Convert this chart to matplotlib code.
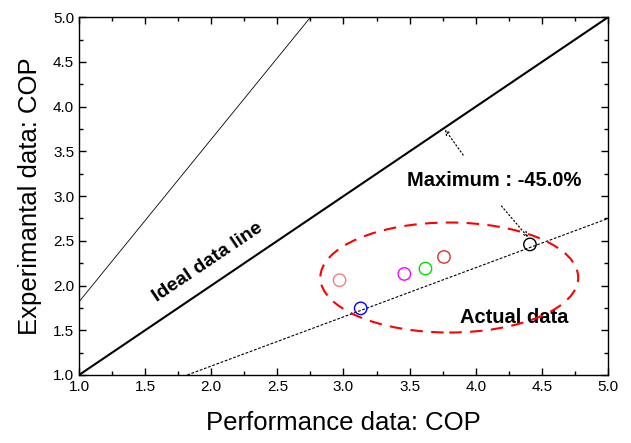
import matplotlib
matplotlib.use("Agg")
import matplotlib.pyplot as plt
import numpy as np
from matplotlib.patches import Ellipse
from matplotlib.ticker import MultipleLocator

plt.rcParams['font.family'] = ['Liberation Sans', 'DejaVu Sans']

# Data
perf_cop = [2.97, 3.13, 3.46, 3.62, 3.76, 4.41]
exp_cop = [2.06, 1.745, 2.13, 2.19, 2.32, 2.46]
point_colors = ['#f08080', '#0000ff', '#ff00ff', '#00e000', '#e03030', '#000000']
ideal_x = [1.0, 5.0]
ideal_y = [1.0, 5.0]
ratio_upper = 1 / 0.55
ratio_lower = 0.55
x_ticks = [1.0, 1.5, 2.0, 2.5, 3.0, 3.5, 4.0, 4.5, 5.0]
y_ticks = [1.0, 1.5, 2.0, 2.5, 3.0, 3.5, 4.0, 4.5, 5.0]

fig = plt.figure(figsize=(6.31, 4.43), dpi=100)
ax = fig.add_axes([0.1252, 0.1535, 0.8383, 0.8075])

xs = np.array([1.0, 5.0])
ax.plot(ideal_x, ideal_y, color='black', lw=1.5)
ax.plot(xs, xs * ratio_upper, color='black', lw=0.6)
ax.plot(xs, xs * ratio_lower, color='black', lw=0.8, ls=(0, (2.5, 1.5)))

for x, y, c in zip(perf_cop, exp_cop, point_colors):
    ax.scatter([x], [y], s=80, facecolors='none', edgecolors=c, linewidths=1.0, zorder=5)

ell = Ellipse((3.80, 2.09), 1.95, 1.23, fill=False, edgecolor='#ff0000', lw=1.5,
              ls=(0, (6, 4)), zorder=4)
ax.add_patch(ell)

ax.text(1.975, 2.26, 'Ideal data line', rotation=34, rotation_mode='anchor',
        ha='center', va='center', fontsize=14, fontweight='bold')
ax.text(4.14, 3.18, 'Maximum : -45.0%', ha='center', va='center', fontsize=14.5, fontweight='bold')
ax.text(4.29, 1.64, 'Actual data', ha='center', va='center', fontsize=14.5, fontweight='bold')

arrow_kw = dict(arrowstyle='->', color='black', lw=0.9, ls=(0, (1, 2)), mutation_scale=8,
                shrinkA=0, shrinkB=0)
ax.annotate('', xy=(3.767, 3.745), xytext=(3.905, 3.46), arrowprops=arrow_kw)
ax.annotate('', xy=(4.396, 2.54), xytext=(4.195, 2.889), arrowprops=arrow_kw)

ax.set_xlim(1.0, 5.0)
ax.set_ylim(1.0, 5.0)
ax.set_xticks(x_ticks)
ax.set_yticks(y_ticks)
ax.set_xticklabels([f'{v:.1f}' for v in x_ticks])
ax.set_yticklabels([f'{v:.1f}' for v in y_ticks])
ax.xaxis.set_minor_locator(MultipleLocator(0.25))
ax.yaxis.set_minor_locator(MultipleLocator(0.25))
ax.tick_params(which='both', direction='in', top=True, right=True, labelsize=11, width=1)
ax.tick_params(which='major', length=5)
ax.tick_params(which='minor', length=3)
for s in ax.spines.values():
    s.set_linewidth(1.0)

ax.set_xlabel('Performance data: COP', fontsize=18.5, labelpad=12)
ax.set_ylabel('Experimantal data: COP', fontsize=18.5, labelpad=8)

fig.savefig('out.png', dpi=100, facecolor='white')
